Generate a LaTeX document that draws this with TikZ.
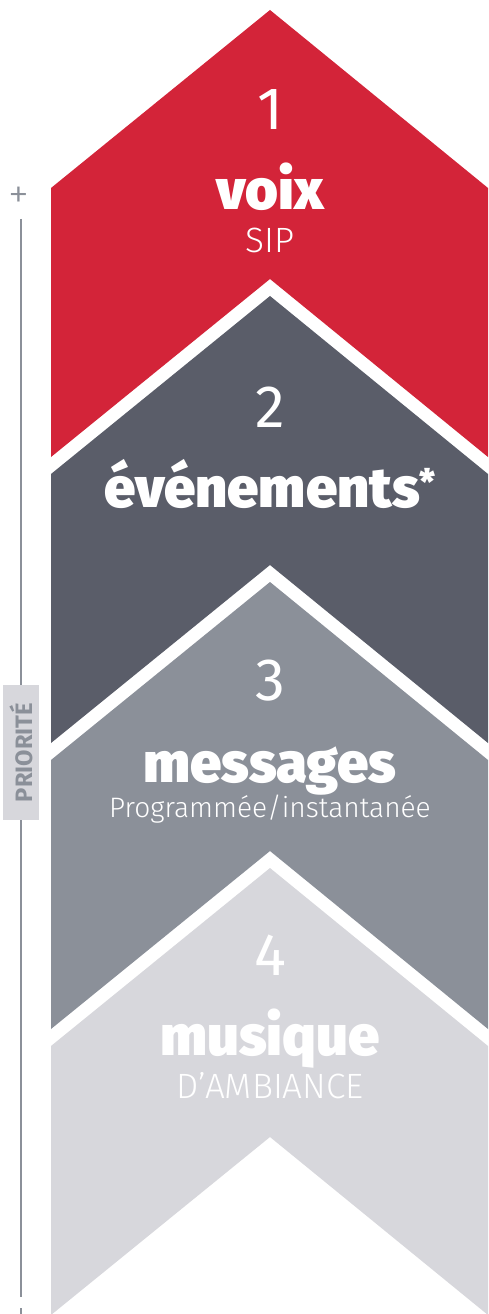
\documentclass[tikz,border=0pt]{standalone}
\usepackage{fontspec}
\setmainfont{Fira Sans}
\newfontfamily\heavyfont{Fira Sans Black}
\newfontfamily\thinfont{Fira Sans Light}
\usetikzlibrary{positioning}
\definecolor{voixred}{HTML}{D32439}
\definecolor{eventgray}{HTML}{5A5D69}
\definecolor{msggray}{HTML}{8B9099}
\definecolor{musicgray}{HTML}{D7D7DC}
\def\tier[#1](#2){\fill[#1] (270,#2) -- (488,{#2+178}) -- (488,{#2+447}) -- (270,{#2+269}) -- (51,{#2+447}) -- (51,{#2+178}) -- cycle;}

\begin{document}
\begin{tikzpicture}[x=0.02cm, y=-0.02cm,
	title/.style={text=white, anchor=base, inner sep=0, font=\heavyfont\fontsize{32}{36}\selectfont},
	number/.style={text=white, anchor=base, inner sep=0, font=\fontsize{34}{38}\selectfont},
	sub/.style={text=white, anchor=base, inner sep=0, font=\thinfont\fontsize{20}{24}\selectfont}]
		%%%%% START %%%%%
		\useasboundingbox (0,0) rectangle (488,1314);
		
		\tier[voixred](10);
		\tier[eventgray](296);
		\tier[msggray](582);
		\tier[musicgray](868);
		
		\node[number] (n1) at (270,130) {1};
		\node[title] (voix) at (270,210) {voix};
		\node[sub] (sip) at (270,253) {SIP};
		
		\node[number] (n2) at (270,427) {2};
		\node[title] (event) at (270,507) {événements\raisebox{7pt}{\fontsize{20}{20}\selectfont*}};
		
		\node[number] (n3) at (270,700) {3};
		\node[title] (msg) at (270,782) {messages};
		\node[sub, font=\thinfont\fontsize{16}{20}\selectfont] (prog) at (270,817) {Programmée/instantanée};
		
		\node[number] (n4) at (270,975) {4};
		\node[title] (music) at (270,1055) {musique};
		\node[sub] (amb) at (270,1098) {D’AMBIANCE};
		
		% axe priorite
		\node[msggray, inner sep=0, font=\thinfont\fontsize{24}{24}\selectfont] (plus) at (19,198) {+};
		\node[fill=musicgray, text=msggray, rotate=90, inner sep=0, minimum width=2.7cm, minimum height=0.72cm, font=\bfseries\fontsize{13.5}{14}\selectfont] (prio) at (21,752.5) {PRIORITÉ};
		\coordinate (top) at (21,219);
		\coordinate (bot) at (21,1297);
		\draw[msggray, line width=1.1pt] (top) -- (prio.east);
		\draw[msggray, line width=1.1pt] (prio.west) -- (bot);
		\coordinate (minus) at (21,1308);
		\draw[msggray, line width=1.1pt] (minus) -- ++(0,6);
		%%%%% END %%%%%
\end{tikzpicture}
\end{document}
